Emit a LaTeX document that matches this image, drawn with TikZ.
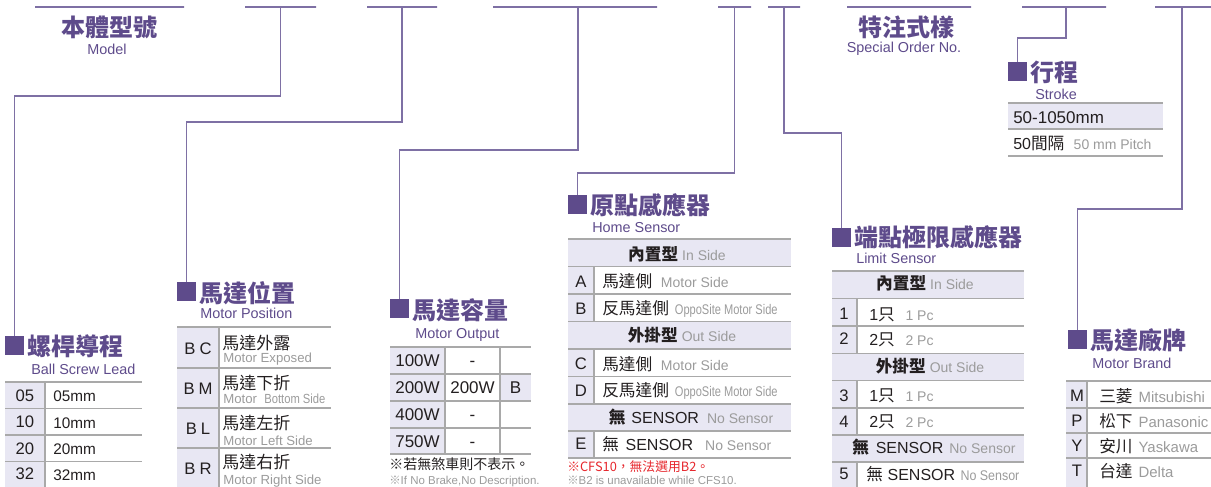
\documentclass[tikz,border=0pt]{standalone}
\usepackage{fontspec}
\usepackage{graphicx}
\setmainfont{Liberation Sans}
\newfontfamily\cjk{Noto Sans CJK TC}
\definecolor{purp}{HTML}{5E4B8B}
\definecolor{linec}{HTML}{7E70A4}
\definecolor{lav}{HTML}{E8E7F3}
\definecolor{gridc}{HTML}{A9A9A9}
\definecolor{gtext}{HTML}{9B9B9B}
\definecolor{btext}{HTML}{231F20}
\definecolor{notered}{HTML}{E6262C}
\newcommand\zhs[1]{{\cjk\fontsize{12.5}{14}\selectfont #1}}
\newcommand\zhbold[1]{{\cjk\bfseries\fontsize{12.5}{14}\selectfont #1}}
\newcommand\eng[1]{{\color{gtext}\fontsize{10.5}{12}\selectfont #1}}
\newcommand\engs[2]{{\color{gtext}\fontsize{10.5}{12}\selectfont\scalebox{#1}[1]{#2}}}
\tikzset{
 bar/.style={draw=linec, line width=1.2pt, inner sep=0pt, outer sep=0pt, minimum height=0pt},
 conn/.style={draw=linec, line width=1.1pt},
 sqb/.style={fill=purp, inner sep=0pt, outer sep=0pt, minimum size=14.25pt, anchor=north west},
 ttl/.style={font=\cjk\bfseries\fontsize{18}{20}\selectfont, text=purp, inner sep=0pt, text height=13.7pt, text depth=0pt, anchor=west},
 ttlc/.style={ttl, anchor=center},
 sub/.style={font=\fontsize{10.8}{12}\selectfont, text=purp, inner sep=0pt, text height=7.8pt, text depth=0pt, anchor=west},
 subc/.style={sub, anchor=center},
 code/.style={font=\fontsize{12.5}{14}\selectfont, text=btext, inner sep=0pt, text height=8.9pt, text depth=0pt},
 cell/.style={font=\fontsize{12}{14}\selectfont, text=btext, inner sep=0pt, text height=9.2pt, text depth=0pt, anchor=west},
 zh/.style={font=\cjk\fontsize{12.75}{14}\selectfont, text=btext, inner sep=0pt, text height=9.7pt, text depth=0pt, anchor=west},
 en/.style={font=\fontsize{9.9}{12}\selectfont, text=gtext, inner sep=0pt, text height=7.1pt, text depth=0pt, anchor=west},
 hdr/.style={cell, anchor=center},
 gl/.style={draw=gridc, line width=1pt},
 note/.style={inner sep=0pt, text depth=0pt, anchor=west},
}
\begin{document}
\begin{tikzpicture}[x=0.75pt,y=-0.75pt]
\useasboundingbox (0,0) rectangle (1211,486);
\clip (0,0) rectangle (1211,486);

% ---------- top bars ----------
\node[bar, minimum width=111.75pt] (b1) at (109.5,7) {};
\node[bar, minimum width=53.25pt] (b2) at (280.5,7) {};
\node[bar, minimum width=52.5pt] (b3) at (402,7) {};
\node[bar, minimum width=123pt] (b4) at (575,7) {};
\node[bar, minimum width=24.75pt] (b5) at (734.5,7) {};
\node[bar, minimum width=24pt] (b6) at (784,7) {};
\node[bar, minimum width=93pt] (b7) at (909,7) {};
\node[bar, minimum width=63pt] (b8) at (1064,7) {};
\node[bar, minimum width=42pt] (b9) at (1183,7) {};

\node[ttlc] (model) at (109,27) {本體型號};
\node[subc] (modelen) at (107,49) {Model};
\node[ttlc] (spec) at (906,27) {特注式樣};
\node[subc] (specen) at (904,47) {Special Order No.};

% ---------- Table 1: ball screw lead ----------
\node[sqb] (sq1) at (5,336) {};
\node[ttl] (t1) at (27,346.5) {螺桿導程};
\node[sub] (s1) at (31,369) {Ball Screw Lead};
\fill[lav] (5,382) rectangle (45,488);
\foreach \y in {382,408.5,435,461.5} \draw[gl] (5,\y) -- (142,\y);
\draw[gl] (45,382) -- (45,488);
\foreach \c/\v/\y [count=\i] in {05/05mm/395.5, 10/10mm/422, 20/20mm/448.5, 32/32mm/474}{
  \node[code] (lc\i) at (25,\y) {\c};
  \node[cell, font=\fontsize{11.5}{14}\selectfont] (lv\i) at (53,\y) {\v};
}

% ---------- Table 2: motor position ----------
\node[sqb] (sq2) at (177,282) {};
\node[ttl] (t2) at (199,293) {馬達位置};
\node[sub] (s2) at (200,313) {Motor Position};
\fill[lav] (177,327) rectangle (219,488);
\foreach \y in {327,368,408,448} \draw[gl] (177,\y) -- (331,\y);
\draw[gl] (219,327) -- (219,488);
\node[code] (pc1) at (198,349) {B\kern3pt C};
\node[code] (pc2) at (198,389) {B\kern3pt M};
\node[code] (pc3) at (198,429) {B\kern3pt L};
\node[code] (pc4) at (198,469) {B\kern3pt R};
\node[zh] (pz1) at (222,343) {馬達外露};
\node[en] (pe1) at (223,358) {Motor Exposed};
\node[zh] (pz2) at (222,383) {馬達下折};
\node[en] (pe2) at (223,399) {Motor\hspace{5.5pt}\scalebox{0.85}[1]{Bottom Side}};
\node[zh] (pz3) at (222,423.5) {馬達左折};
\node[en] (pe3) at (223,440.5) {Motor Left Side};
\node[zh] (pz4) at (222,462.5) {馬達右折};
\node[en] (pe4) at (223,480) {Motor Right Side};

% ---------- Table 3: motor output ----------
\node[sqb] (sq3) at (390,299) {};
\node[ttl] (t3) at (412,310) {馬達容量};
\node[sub] (s3) at (415,333) {Motor Output};
\fill[lav] (390,347) rectangle (445,454);
\fill[lav] (500,374) rectangle (531,401);
\foreach \y in {347,374,401,428,454} \draw[gl] (390,\y) -- (531,\y);
\draw[gl] (445,347) -- (445,454) (500,347) -- (500,454);
\foreach \a/\b/\y [count=\i] in {100W/-/361, 200W/200W/388, 400W/-/415, 750W/-/442}{
  \node[code, font=\fontsize{12.75}{14}\selectfont] (oa\i) at (417.5,\y) {\a};
  \node[code, font=\fontsize{12.75}{14}\selectfont] (ob\i) at (472.5,\y) {\b};
}
\node[code, font=\fontsize{12.75}{14}\selectfont] (oc2) at (515.5,388) {B};
\node[note, text=btext, font=\cjk\fontsize{10.5}{12}\selectfont, text height=7.6pt] (on1) at (389,464) {※若無煞車則不表示。};
\node[note, text=gtext, font=\fontsize{8.6}{10}\selectfont, text height=6.2pt] (on2) at (389,480) {{\cjk ※}If No Brake,No Description.};

% ---------- Table 4: home sensor ----------
\node[sqb] (sq4) at (568,195) {};
\node[ttl] (t4) at (590,205) {原點感應器};
\node[sub] (s4) at (592,227) {Home Sensor};
\fill[lav] (568,239) rectangle (791,266.7);
\fill[lav] (568,321.7) rectangle (791,349);
\fill[lav] (568,404) rectangle (791,431);
\fill[lav] (568,266.7) rectangle (594,321.7);
\fill[lav] (568,349) rectangle (594,404);
\fill[lav] (568,431) rectangle (594,458);
\foreach \y in {239,266.7,294,321.7,349,376.7,404,431,458} \draw[gl] (568,\y) -- (791,\y);
\draw[gl] (594,266.7) -- (594,321.7) (594,349) -- (594,404) (594,431) -- (594,458);
\node[hdr] (hh1) at (677,254) {\zhbold{內置型}\hspace{3pt}\eng{In Side}};
\node[hdr] (hh2) at (682,335.5) {\zhbold{外掛型}\hspace{3pt}\eng{Out Side}};
\node[hdr] (hh3) at (691,417.5) {\zhbold{無}\hspace{4.5pt}SENSOR\hspace{6pt}\eng{No Sensor}};
\node[code] (ha) at (581,281.5) {A};
\node[cell] (hta) at (602,281.5) {\zhs{馬達側}\hspace{6.5pt}\eng{Motor Side}};
\node[code] (hb) at (581,308.5) {B};
\node[cell] (htb) at (602,308.5) {\zhs{反馬達側}\hspace{4.5pt}\engs{0.79}{OppoSite Motor Side}};
\node[code] (hc) at (581,364) {C};
\node[cell] (htc) at (602,364) {\zhs{馬達側}\hspace{6.5pt}\eng{Motor Side}};
\node[code] (hd) at (581,390.5) {D};
\node[cell] (htd) at (602,390.5) {\zhs{反馬達側}\hspace{4.5pt}\engs{0.79}{OppoSite Motor Side}};
\node[code] (he) at (581,444) {E};
\node[cell] (hte) at (602,444) {\zhs{無}\hspace{5pt}SENSOR\hspace{9pt}\eng{No Sensor}};
\node[note, text=notered, font=\cjk\fontsize{9.6}{12}\selectfont, text height=7pt] (hn1) at (567,467) {※CFS10，無法選用B2。};
\node[note, text=gtext, font=\fontsize{8.6}{10}\selectfont, text height=6.2pt] (hn2) at (567,480.5) {{\cjk ※}B2 is unavailable while CFS10.};

% ---------- Table 5: limit sensor ----------
\node[sqb] (sq5) at (832,228) {};
\node[ttl] (t5) at (854,237.5) {端點極限感應器};
\node[sub] (s5) at (856,258) {Limit Sensor};
\fill[lav] (832,271) rectangle (1024,298.7);
\fill[lav] (832,353.3) rectangle (1024,380.7);
\fill[lav] (832,435) rectangle (1024,462);
\fill[lav] (832,298.7) rectangle (857,353.3);
\fill[lav] (832,380.7) rectangle (857,435);
\fill[lav] (832,462) rectangle (857,489);
\foreach \y in {271,298.7,326,353.3,380.7,408,435,462} \draw[gl] (832,\y) -- (1024,\y);
\draw[gl] (857,298.7) -- (857,353.3) (857,380.7) -- (857,435) (857,462) -- (857,489);
\node[hdr] (lh1) at (925,283.5) {\zhbold{內置型}\hspace{3pt}\eng{In Side}};
\node[hdr] (lh2) at (930,366) {\zhbold{外掛型}\hspace{3pt}\eng{Out Side}};
\node[hdr] (lh3) at (934,447.5) {\zhbold{無}\hspace{5pt}SENSOR\hspace{4.5pt}\eng{No Sensor}};
\node[code] (ld1) at (844,314) {1};
\node[cell] (lt1) at (869,314) {1\zhs{只}\hspace{8pt}\eng{1 Pc}};
\node[code] (ld2) at (844,339) {2};
\node[cell] (lt2) at (869,339) {2\zhs{只}\hspace{8pt}\eng{2 Pc}};
\node[code] (ld3) at (844,395.5) {3};
\node[cell] (lt3) at (869,395.5) {1\zhs{只}\hspace{8pt}\eng{1 Pc}};
\node[code] (ld4) at (844,421.5) {4};
\node[cell] (lt4) at (869,421.5) {2\zhs{只}\hspace{8pt}\eng{2 Pc}};
\node[code] (ld5) at (844,474) {5};
\node[cell] (lt5) at (866,474) {\zhs{無}\hspace{3.5pt}SENSOR\hspace{4pt}\engs{0.89}{No Sensor}};

% ---------- Table 6: stroke ----------
\node[sqb] (sq6) at (1008,62) {};
\node[ttl] (t6) at (1030,72.5) {行程};
\node[sub] (s6) at (1035,94) {Stroke};
\fill[lav] (1008,103) rectangle (1163,129);
\foreach \y in {103,129,156} \draw[gl] (1008,\y) -- (1163,\y);
\node[cell, font=\fontsize{12.75}{14}\selectfont] (st1) at (1013,117) {50-1050mm};
\node[cell] (st2) at (1013,143.5) {50\zhs{間隔}\hspace{7pt}\eng{50 mm Pitch}};

% ---------- Table 7: motor brand ----------
\node[sqb] (sq7) at (1068,330) {};
\node[ttl] (t7) at (1090,340) {馬達廠牌};
\node[sub] (s7) at (1092,363) {Motor Brand};
\fill[lav] (1066,381) rectangle (1087,488);
\foreach \y in {381,408,433,458} \draw[gl] (1066,\y) -- (1211,\y);
\draw[gl] (1087,381) -- (1087,488);
\foreach \k/\z/\e/\y [count=\i] in {M/三菱/Mitsubishi/396, P/松下/Panasonic/421, Y/安川/Yaskawa/446, T/台達/Delta/471}{
  \node[code] (bk\i) at (1077,\y) {\k};
  \node[cell] (bt\i) at (1099,\y) {\zhs{\z}\hspace{4.5pt}{\color{gtext}\fontsize{11.2}{12}\selectfont \e}};
}

% ---------- connectors ----------
\draw[conn] (b2.center) -- ++(0,89) -| (sq1.north);
\draw[conn] (b3.center) -- ++(0,115) -| (sq2.north);
\draw[conn] ([xshift=2.25pt]b4.center) -- ++(0,143) -| (sq3.north);
\draw[conn] (b5.center) -- ++(0,166) -| (sq4.north);
\draw[conn] (b6.center) -- ++(0,126) -| (sq5.north);
\draw[conn] ([xshift=1.5pt]b8.center) -- ++(0,31) -| (sq6.north);
\draw[conn] ([xshift=-0.75pt]b9.center) -- ++(0,202) -| (sq7.north);
\end{tikzpicture}
\end{document}
